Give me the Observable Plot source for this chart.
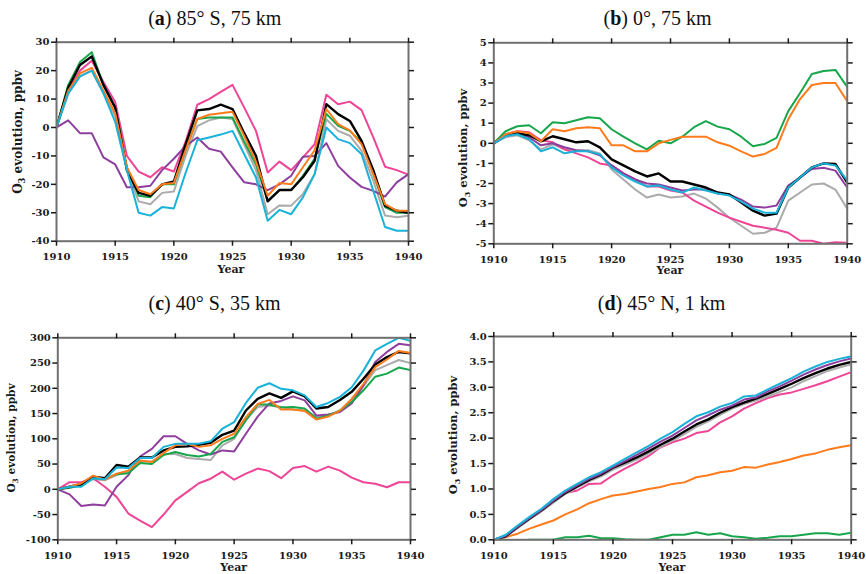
<!DOCTYPE html>
<html><head><meta charset="utf-8">
<script src="https://cdn.jsdelivr.net/npm/d3@7"></script>
<script src="https://cdn.jsdelivr.net/npm/@observablehq/plot@0.6"></script>
<style>
body{margin:0;background:#fff;}
#fig{position:relative;width:866px;height:574px;overflow:hidden;background:#fff;}
#fig svg{position:absolute;}
</style></head><body><div id="fig"></div>
<script>
// ---------- data (annual values, 1910–1940) ----------
const years = d3.range(1910, 1941);
const xTicks = [1910, 1915, 1920, 1925, 1930, 1935, 1940];

// (a) 85° S, 75 km
const aBlack  = [0,14,22,25,15,7,-15,-23,-24,-20,-19,-6,6,6.5,8,6.5,-2,-10,-26,-22,-22,-17.5,-11.7,8.2,4.7,2.3,-4.7,-15,-27.5,-29.3,-30];
const aGreen  = [0,15,23,26.5,15,7,-14,-24,-24.5,-20,-20,-8,3,3.5,3.5,3.5,-5,-13,-25.8,-22,-22,-17,-11,4.8,0.6,-1.2,-5.3,-16.4,-28,-30,-30];
const aOrange = [0,13,19,21,13,5,-14,-22,-23.5,-20,-19.5,-8,3,4.5,5,5.5,-3,-12,-24,-19.5,-20,-14,-8,6.5,1.2,-1,-5.9,-16.4,-27,-29.3,-29.3];
const aPink   = [0,13,20,23.5,16,9,-10,-15.5,-17.5,-14,-15.5,-5,8,10,12.5,15,7,-1.2,-15.8,-12,-15,-10.5,-5.9,11.5,8.2,9.1,6.1,-3.5,-13.8,-15,-16.6];
const aCyan   = [0,12,18,20,12,2,-15,-30,-31,-28,-28.5,-16,-4.5,-3.5,-2.5,-1.2,-9.4,-17.6,-32.8,-29,-30.5,-24.6,-16.4,0,-4.1,-5.5,-9.4,-22.3,-35,-36.3,-36.3];
const aGray   = [0,12,18,20,12,4,-15,-26,-27,-23,-22.5,-10,0.5,2.5,3.5,3,-6,-15,-30.5,-27.4,-27.5,-23.4,-16.4,2.9,-1.2,-2.9,-8.2,-18.8,-31,-31.6,-31];
const aPurple = [0,2.5,-2,-2,-10.5,-13,-21,-21,-20.5,-15,-11,-6.5,-3.5,-7.5,-8.5,-14,-19.3,-20,-22,-20,-17,-10.3,-10,-5.5,-13.5,-17.6,-20.9,-22.3,-24.3,-19.3,-16.4];

// (b) 0°, 75 km
const bGreen  = [0,0.6,0.85,0.9,0.5,1.05,1.0,1.15,1.3,1.25,0.7,0.33,0.0,-0.3,0.13,0.0,0.33,0.8,1.1,0.83,0.7,0.33,-0.15,-0.03,0.27,1.6,2.5,3.45,3.6,3.65,2.8];
const bOrange = [0,0.45,0.6,0.5,0.1,0.7,0.6,0.75,0.8,0.75,-0.1,-0.1,-0.4,-0.4,0,0.17,0.33,0.33,0.33,0.05,-0.12,-0.4,-0.66,-0.53,-0.23,1.2,2.2,2.9,3.0,3.0,2.1];
const bBlack  = [0,0.4,0.5,0.4,0.1,0.35,0.2,0.05,0.1,-0.2,-0.8,-1.1,-1.4,-1.65,-1.5,-1.9,-1.9,-2.05,-2.2,-2.45,-2.55,-2.95,-3.35,-3.6,-3.5,-2.2,-1.7,-1.2,-1.0,-1.03,-1.95];
const bPurple = [0,0.4,0.5,0.3,-0.1,0.0,-0.2,-0.35,-0.4,-0.6,-1.1,-1.5,-1.8,-2.0,-2.05,-2.2,-2.35,-2.3,-2.3,-2.5,-2.55,-2.8,-3.15,-3.2,-3.1,-2.1,-1.7,-1.28,-1.22,-1.36,-2.2];
const bCyan   = [0,0.35,0.45,0.2,-0.4,-0.2,-0.5,-0.4,-0.4,-0.55,-1.2,-1.6,-1.9,-2.15,-2.1,-2.3,-2.45,-2.2,-2.35,-2.5,-2.6,-2.9,-3.25,-3.45,-3.45,-2.2,-1.7,-1.2,-1.0,-1.1,-1.85];
const bPink   = [0,0.45,0.6,0.55,0.15,0.05,-0.3,-0.5,-0.7,-1.0,-1.1,-1.5,-1.8,-2.15,-2.15,-2.35,-2.45,-2.85,-3.15,-3.45,-3.7,-3.9,-4.1,-4.2,-4.3,-4.45,-4.85,-4.85,-5.0,-4.92,-4.95];
const bGray   = [0,0.3,0.4,0.15,-0.3,-0.05,-0.3,-0.35,-0.35,-0.5,-1.3,-1.8,-2.3,-2.7,-2.55,-2.7,-2.65,-2.5,-2.75,-3.2,-3.7,-4.1,-4.5,-4.45,-4.2,-2.85,-2.45,-2.05,-2.0,-2.3,-3.25];

// (c) 40° S, 35 km
const cBlack  = [0,5,10,25,22,48,45,63,63,77,84,85,88,92,108,116,156,179,190,181,194,184,160,163,177,193,219,247,262,272,269];
const cCyan   = [0,5,5,22,20,43,42,62,62,84,90,90,90,95,120,133,171,201,210,199,196,186,163,171,183,202,235,275,288,300,294];
const cOrange = [0,5,12,27,19,31,37,57,54,72,87,90,84,87,100,110,143,169,177,158,158,155,138,144,156,179,209,242,257,274,270];
const cGreen  = [0,3,8,22,20,30,32,52,50,68,74,68,65,70,94,103,137,168,168,162,163,160,140,146,156,173,196,223,229,241,236];
const cGray   = [0,3,8,20,18,28,35,55,55,70,70,62,60,58,87,100,137,163,166,163,158,156,144,146,155,175,204,236,246,256,250];
const cPurple = [0,-10,-33,-30,-32,5,28,65,80,105,105,90,77,69,77,75,110,144,170,175,184,176,146,148,153,170,206,252,272,288,285];
const cPink   = [0,14,14,22,5,-15,-48,-62,-75,-50,-22,-5,12,21,35,19,31,41,36,22,42,46,35,45,37,23,14,11,4,14,14];

// (d) 45° N, 1 km
const dCyan   = [0,0.1,0.28,0.45,0.61,0.8,0.97,1.1,1.23,1.33,1.46,1.59,1.72,1.85,1.99,2.12,2.28,2.43,2.51,2.62,2.69,2.82,2.84,2.96,3.07,3.18,3.31,3.41,3.5,3.56,3.61];
const dPurple = [0,0.08,0.26,0.43,0.59,0.77,0.94,1.07,1.2,1.3,1.43,1.55,1.67,1.8,1.93,2.05,2.2,2.35,2.45,2.56,2.64,2.76,2.8,2.92,3.02,3.13,3.25,3.35,3.44,3.51,3.57];
const dBlack  = [0,0.07,0.25,0.42,0.58,0.76,0.92,1.05,1.18,1.28,1.42,1.52,1.62,1.74,1.87,1.99,2.13,2.27,2.37,2.5,2.61,2.7,2.78,2.87,2.97,3.07,3.18,3.28,3.37,3.44,3.5];
const dGray   = [0,0.06,0.23,0.4,0.56,0.73,0.9,1.03,1.15,1.25,1.38,1.48,1.58,1.7,1.83,1.95,2.08,2.22,2.33,2.46,2.58,2.67,2.74,2.82,2.91,3.0,3.12,3.22,3.32,3.39,3.45];
const dPink   = [0,0.08,0.25,0.42,0.58,0.8,0.92,0.97,1.1,1.11,1.27,1.4,1.52,1.65,1.82,1.92,1.99,2.1,2.14,2.31,2.43,2.58,2.69,2.79,2.86,2.9,2.97,3.04,3.12,3.21,3.3];
const dOrange = [0,0.05,0.12,0.22,0.3,0.38,0.5,0.6,0.72,0.8,0.87,0.9,0.95,1.0,1.04,1.1,1.13,1.23,1.27,1.33,1.36,1.43,1.42,1.48,1.53,1.59,1.66,1.7,1.77,1.82,1.86];
const dGreen  = [0,-0.01,-0.02,0,0,0,0.05,0.05,0.08,0.03,0.03,0.01,0,0,0.05,0.1,0.1,0.15,0.1,0.13,0.07,0.05,0.02,0.04,0.07,0.07,0.1,0.13,0.13,0.1,0.14];

// y ticks
const aTicks = [-40,-30,-20,-10,0,10,20,30];
const bTicks = [-5,-4,-3,-2,-1,0,1,2,3,4,5];
const cTicks = [-100,-50,0,50,100,150,200,250,300];
const dTicks = [0,0.5,1,1.5,2,2.5,3,3.5,4];

// ---------- styling ----------
const COL = {gray:"#ababab", pink:"#ef4597", purple:"#8e3f9e", green:"#17a64b", black:"#000000", orange:"#ff7b1c", cyan:"#19b2d8"};

function panel(series, yDomain, yTicks, yFmt, box, order) {
  const lines = order.map(k => Plot.lineY(series[k], {
    x: (d, i) => years[i], y: d => d,
    stroke: COL[k], strokeWidth: k === "black" ? 2.4 : 2, strokeLinejoin: "round", clip: true
  }));
  const svg = Plot.plot({
    width: box.w, height: box.h,
    marginLeft: box.ml, marginRight: box.mr, marginTop: box.mt, marginBottom: box.mb,
    x: {domain: [1910, 1940]},
    y: {domain: yDomain},
    style: {fontFamily: "'DejaVu Serif', serif", fontWeight: "bold", fontSize: "10px", color: "#1a1a1a", background: "transparent", overflow: "visible"},
    marks: [
      ...lines,
      Plot.frame({stroke: "#707070", strokeWidth: 2}),
      Plot.axisX({anchor: "bottom", ticks: xTicks, tickSize: 5, tickPadding: 7, tickFormat: d => String(d), label: null, strokeWidth: 1.5}),
      Plot.axisX({anchor: "top", ticks: xTicks, tickSize: 5, fill: "none", label: null, strokeWidth: 1.5}),
      Plot.axisY({anchor: "left", ticks: yTicks, tickSize: 5, tickPadding: 2, tickFormat: yFmt, label: null, strokeWidth: 1.5}),
      Plot.axisY({anchor: "right", ticks: yTicks, tickSize: 5, fill: "none", label: null, strokeWidth: 1.5})
    ]
  });
  svg.style.left = box.left + "px";
  svg.style.top = box.top + "px";
  return svg;
}

const fig = document.getElementById("fig");
const intFmt = d => String(d);
const orderABC = ["gray","pink","purple","green","black","orange","cyan"];
const orderD = ["green","orange","pink","gray","black","purple","cyan"];

fig.appendChild(panel(
  {black:aBlack, green:aGreen, orange:aOrange, pink:aPink, cyan:aCyan, gray:aGray, purple:aPurple},
  [-40, 30], aTicks, intFmt,
  {left:0, top:30, w:433, h:250, ml:56, mr:25, mt:11.7, mb:39.3}, orderABC));
fig.appendChild(panel(
  {black:bBlack, green:bGreen, orange:bOrange, pink:bPink, cyan:bCyan, gray:bGray, purple:bPurple},
  [-5, 5], bTicks, intFmt,
  {left:433, top:30, w:433, h:250, ml:60.3, mr:19.3, mt:12.3, mb:36.7}, orderABC));
fig.appendChild(panel(
  {black:cBlack, green:cGreen, orange:cOrange, pink:cPink, cyan:cCyan, gray:cGray, purple:cPurple},
  [-100, 300], cTicks, intFmt,
  {left:0, top:320, w:433, h:250, ml:57.3, mr:23, mt:17.3, mb:30.7}, orderABC));
fig.appendChild(panel(
  {black:dBlack, green:dGreen, orange:dOrange, pink:dPink, cyan:dCyan, gray:dGray, purple:dPurple},
  [0, 4], dTicks, d => d.toFixed(1),
  {left:433, top:320, w:433, h:250, ml:60.3, mr:15.3, mt:16, mb:30.7}, orderD));

// ---------- text overlay: titles, axis labels ----------
const ns = "http://www.w3.org/2000/svg";
const ov = document.createElementNS(ns, "svg");
ov.setAttribute("width", 866); ov.setAttribute("height", 574);
ov.style.left = "0px"; ov.style.top = "0px"; ov.style.pointerEvents = "none";
fig.appendChild(ov);

const titles = [
  {letter:"a", rest:" 85° S, 75 km", x:214.7, y:25},
  {letter:"b", rest:" 0°, 75 km", x:657.5, y:25},
  {letter:"c", rest:" 40° S, 35 km", x:214.5, y:310},
  {letter:"d", rest:" 45° N, 1 km", x:661.5, y:310}
];
for (const t of titles) {
  const el = document.createElementNS(ns, "text");
  el.setAttribute("x", t.x); el.setAttribute("y", t.y);
  el.setAttribute("text-anchor", "middle");
  el.setAttribute("font-family", "'Liberation Serif', serif");
  el.setAttribute("font-size", "20");
  el.setAttribute("fill", "#111");
  el.innerHTML = `(<tspan font-weight="bold">${t.letter}</tspan>)${t.rest}`;
  ov.appendChild(el);
}

const yLabels = [
  {x:22, y:132, fs:12},
  {x:467, y:148, fs:11.5},
  {x:15, y:438, fs:10.6},
  {x:457, y:435, fs:11.5}
];
for (const l of yLabels) {
  const el = document.createElementNS(ns, "text");
  el.setAttribute("transform", `translate(${l.x},${l.y}) rotate(-90)`);
  el.setAttribute("text-anchor", "middle");
  el.setAttribute("font-family", "'DejaVu Serif', serif");
  el.setAttribute("font-weight", "bold");
  el.setAttribute("font-size", l.fs);
  el.setAttribute("fill", "#1a1a1a");
  el.innerHTML = `O<tspan font-size="${(l.fs*0.7).toFixed(1)}" dy="3">3</tspan><tspan dy="-3"> evolution, ppbv</tspan>`;
  ov.appendChild(el);
}

const yearLabels = [{x:231, y:273}, {x:670, y:274}, {x:233.7, y:571}, {x:672, y:571}];
for (const l of yearLabels) {
  const el = document.createElementNS(ns, "text");
  el.setAttribute("x", l.x); el.setAttribute("y", l.y);
  el.setAttribute("text-anchor", "middle");
  el.setAttribute("font-family", "'DejaVu Serif', serif");
  el.setAttribute("font-weight", "bold");
  el.setAttribute("font-size", "11");
  el.setAttribute("fill", "#1a1a1a");
  el.textContent = "Year";
  ov.appendChild(el);
}
</script>
</body></html>
